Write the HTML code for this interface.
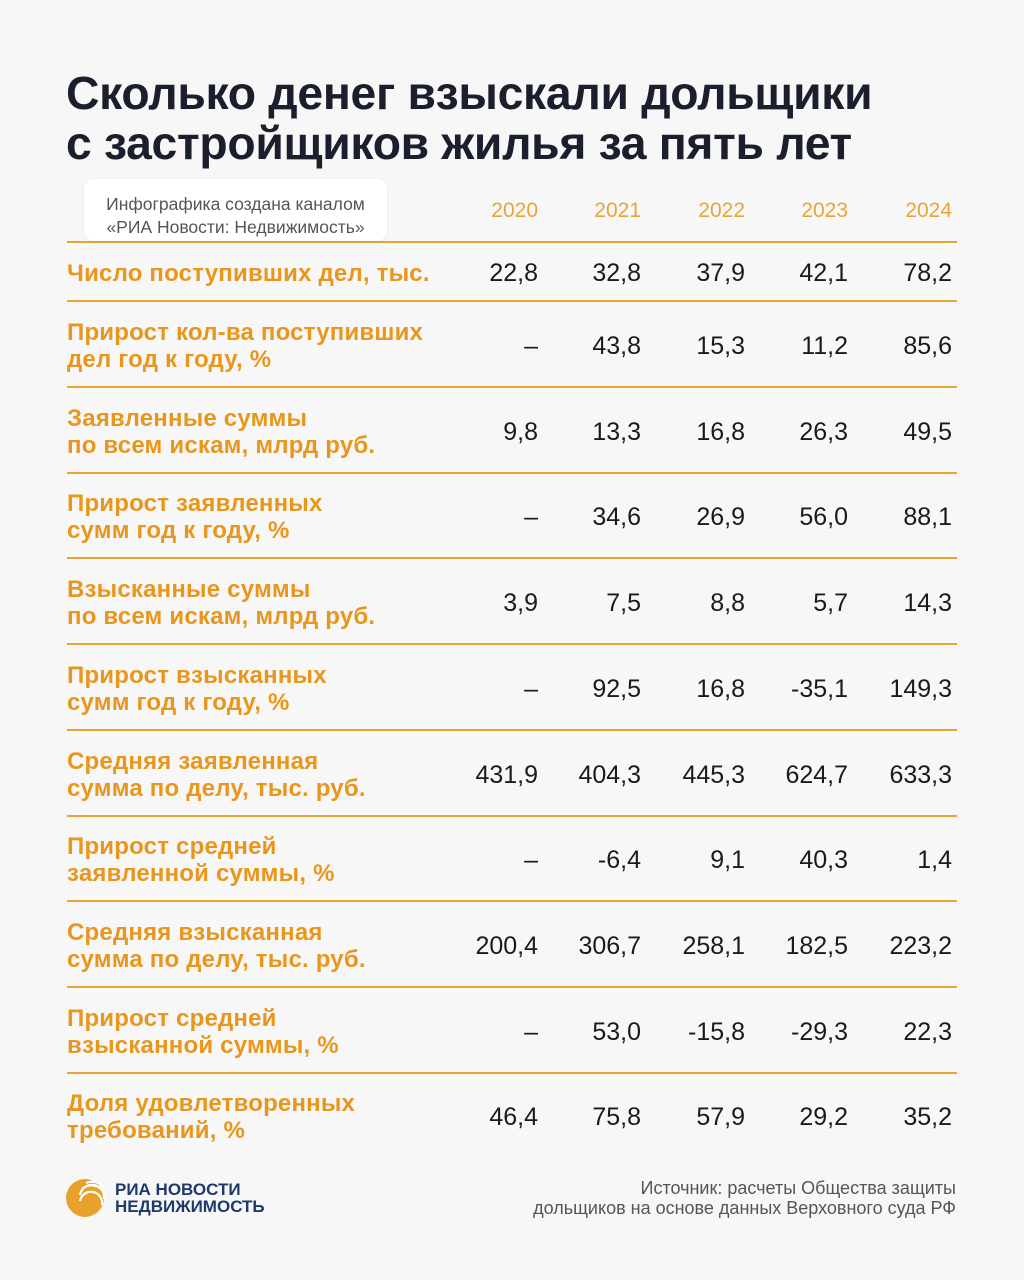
<!DOCTYPE html>
<html><head><meta charset="utf-8"><style>
body{margin:0;width:1024px;height:1280px;background:#f7f7f8;font-family:"Liberation Sans",sans-serif;position:relative;overflow:hidden}
.a{position:absolute}
.t{left:66px;font-size:46.3px;font-weight:bold;color:#1b1e2c;letter-spacing:-0.3px;line-height:50px}
.hl{left:67px;width:890px;height:2px;background:#e8a535}
.lab{left:67px;font-size:24px;font-weight:bold;color:#e8971c;line-height:27px;letter-spacing:0.2px}
.v{font-size:25px;color:#1a1a1a;text-align:right;width:100px}
.y{font-size:21px;color:#e8a535;text-align:right;width:100px;top:199px}
</style></head><body>
<div class="a t" style="top:68px">Сколько денег взыскали дольщики</div>
<div class="a t" style="top:118px">с застройщиков жилья за пять лет</div>
<div class="a hl" style="top:241px"></div>
<div class="a" style="left:84px;top:179px;width:303px;height:62px;background:#fff;border-radius:10px;box-shadow:0 1px 4px rgba(0,0,0,0.06);font-size:17.5px;color:#555;text-align:center;line-height:23px;padding-top:14px;box-sizing:border-box">Инфографика создана каналом<br>«РИА Новости: Недвижимость»</div>
<div class="a y" style="left:438px">2020</div><div class="a y" style="left:541px">2021</div><div class="a y" style="left:645px">2022</div><div class="a y" style="left:748px">2023</div><div class="a y" style="left:852px">2024</div>
<div id="rows"></div>
<div class="a" style="left:66px;top:1179px;width:38px;height:38px;border-radius:50%;background:#e8a12a"></div>
<svg class="a" style="left:66px;top:1179px" width="40" height="40"><g fill="none" stroke="#fff" stroke-width="2.2"><path d="M20 4 A16 16 0 0 1 38 8"/><path d="M16 10 A14 14 0 0 1 38 14"/><path d="M14 16 A12 12 0 0 1 38 20"/><path d="M14 22 A10 10 0 0 1 36 26"/></g></svg>
<div class="a" style="left:115px;top:1181px;font-size:17px;font-weight:bold;color:#1e3a6b;line-height:17px">РИА НОВОСТИ<br>НЕДВИЖИМОСТЬ</div>
<div class="a" style="right:68px;top:1178px;font-size:18px;color:#555;text-align:right;line-height:20px">Источник: расчеты Общества защиты<br>дольщиков на основе данных Верховного суда РФ</div>
<script>
var d=[["Число поступивших дел, тыс.",["22,8","32,8","37,9","42,1","78,2"]],
["Прирост кол-ва поступивших<br>дел год к году, %",["–","43,8","15,3","11,2","85,6"]],
["Заявленные суммы<br>по всем искам, млрд руб.",["9,8","13,3","16,8","26,3","49,5"]],
["Прирост заявленных<br>сумм год к году, %",["–","34,6","26,9","56,0","88,1"]],
["Взысканные суммы<br>по всем искам, млрд руб.",["3,9","7,5","8,8","5,7","14,3"]],
["Прирост взысканных<br>сумм год к году, %",["–","92,5","16,8","-35,1","149,3"]],
["Средняя заявленная<br>сумма по делу, тыс. руб.",["431,9","404,3","445,3","624,7","633,3"]],
["Прирост средней<br>заявленной суммы, %",["–","-6,4","9,1","40,3","1,4"]],
["Средняя взысканная<br>сумма по делу, тыс. руб.",["200,4","306,7","258,1","182,5","223,2"]],
["Прирост средней<br>взысканной суммы, %",["–","53,0","-15,8","-29,3","22,3"]],
["Доля удовлетворенных<br>требований, %",["46,4","75,8","57,9","29,2","35,2"]]];
var xs=[438,541,645,748,852],h="";
for(var i=0;i<d.length;i++){
 var c=i==0?273:346+(i-1)*85.7;
 var two=i>0;
 h+='<div class="a lab" style="top:'+(c-(two?27:13.5))+'px">'+d[i][0]+'</div>';
 for(var j=0;j<5;j++)h+='<div class="a v" style="left:'+xs[j]+'px;top:'+(c-14)+'px">'+d[i][1][j]+'</div>';
 if(i<d.length-1){var ly=i==0?300:386+(i-1)*85.7;h+='<div class="a hl" style="top:'+ly+'px"></div>';}
}
document.getElementById("rows").innerHTML=h;
</script>
</body></html>
